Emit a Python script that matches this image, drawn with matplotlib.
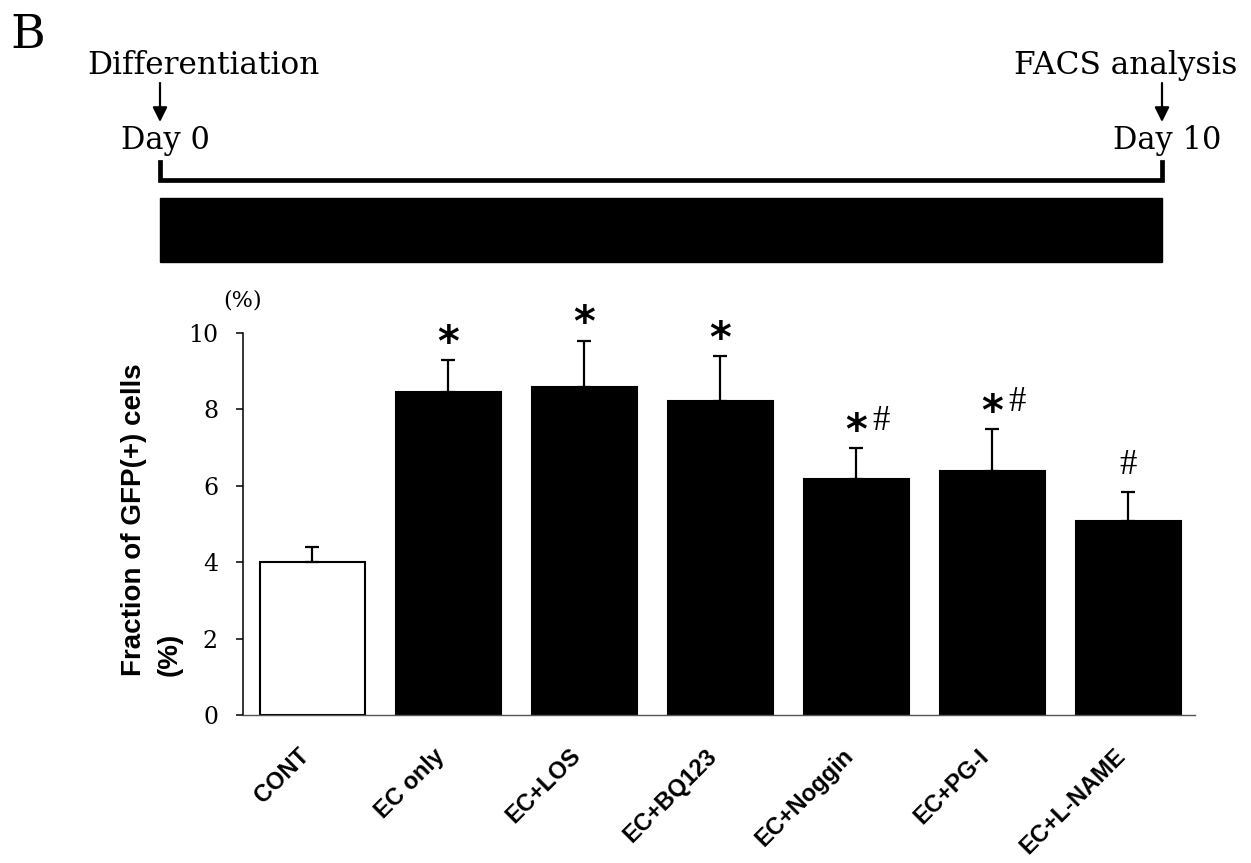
import matplotlib
matplotlib.use('Agg')
import matplotlib.pyplot as plt
from matplotlib.patches import Rectangle
import numpy as np

# bar chart values
groups = ['CONT', 'EC only', 'EC+LOS', 'EC+BQ123', 'EC+Noggin', 'EC+PG-I', 'EC+L-NAME']
gfp_fraction = [4.01, 8.46, 8.58, 8.21, 6.18, 6.40, 5.09]
gfp_sem = [0.39, 0.83, 1.22, 1.19, 0.80, 1.08, 0.75]
marks = ['', '*', '*', '*', '*#', '*#', '#']
bar_colors = ['white'] + ['black'] * 6
y_ticks = [0, 2, 4, 6, 8, 10]

# timeline on top
timeline_days = [0, 10]
timeline_events = ['Differentiation', 'FACS analysis']
timeline_labels = ['Day 0', 'Day 10']

W, H = 1251, 863
fig = plt.figure(figsize=(W / 100, H / 100), dpi=100)
serif = 'DejaVu Serif'
sans = 'Liberation Sans'

# --- timeline panel (x in days, y in pixels from top) ---
ax_t = fig.add_axes([160 / W, 0, 1002 / W, 1])
ax_t.set_xlim(timeline_days[0], timeline_days[-1])
ax_t.set_ylim(H, 0)
ax_t.axis('off')

d0, d1 = timeline_days
ax_t.plot([d0, d0, d1, d1], [162, 180, 180, 162], color='black', lw=3.4,
          solid_joinstyle='miter', clip_on=False)
ax_t.add_patch(Rectangle((d0, 198), d1 - d0, 64, color='black', clip_on=False))

for day, event, lab, ha, dx in zip(timeline_days, timeline_events, timeline_labels,
                                  ['left', 'right'], [-73, 75]):
    ax_t.annotate('', xy=(day, 122), xytext=(day, 83),
                  arrowprops=dict(arrowstyle='-|>', lw=1.6, color='black',
                                  mutation_scale=22, shrinkA=0, shrinkB=0))
    ax_t.annotate(event, xy=(day, 74), xytext=(dx, 0), textcoords='offset pixels',
                  ha=ha, va='baseline', fontsize=22.5, family=serif)
    ax_t.annotate(lab, xy=(day, 149), xytext=(5, 0), textcoords='offset pixels',
                  ha='center', va='baseline', fontsize=22, family=serif)

fig.text(10 / W, 1 - 48 / H, 'B', fontsize=34, family=serif, ha='left', va='baseline')

# --- bar chart ---
ax = fig.add_axes([243 / W, 148 / H, 952 / W, 382 / H])
x = np.arange(len(groups))
ax.bar(x, gfp_fraction, width=0.77, color=bar_colors, edgecolor='black', linewidth=1.5,
       yerr=[np.zeros(len(groups)), gfp_sem],
       error_kw=dict(ecolor='black', elinewidth=1.6, capsize=5, capthick=1.6))

# significance marks
for i, m in enumerate(marks):
    top = gfp_fraction[i] + gfp_sem[i]
    if '*' in m:
        ax.annotate('*', xy=(i, top), xytext=(0, 3), textcoords='offset points',
                    ha='center', va='baseline', fontsize=30, fontweight='bold',
                    family='DejaVu Sans')
    if '#' in m:
        dx = 18 if '*' in m else 0
        ax.annotate('#', xy=(i, top), xytext=(dx, 13), textcoords='offset points',
                    ha='center', va='baseline', fontsize=25, family='Liberation Serif')

ax.set_xlim(-0.51, 6.49)
ax.set_ylim(0, 10)
ax.set_yticks(y_ticks)
ax.set_yticklabels([str(t) for t in y_ticks], family=serif, fontsize=17)
ax.set_xticks(x)
ax.set_xticklabels([])
for i, g in enumerate(groups):
    ax.annotate(g, xy=(i, 0), xycoords=('data', 'axes fraction'), xytext=(-5, -27),
                textcoords='offset points', rotation=45, ha='right', va='center',
                rotation_mode='anchor', fontsize=17, fontweight='bold', family=sans)
ax.tick_params(axis='x', length=0)
ax.tick_params(axis='y', direction='out', length=5, width=1.1, pad=13)

for s in ['top', 'right']:
    ax.spines[s].set_visible(False)
ax.spines['left'].set_linewidth(1.1)
ax.spines['bottom'].set_linewidth(1.0)
ax.spines['bottom'].set_color('#555555')

ax.set_ylabel('Fraction of GFP(+) cells\n(%)', fontsize=20, fontweight='bold', family=sans,
              multialignment='left', linespacing=1.5)
ax.yaxis.set_label_coords(-0.063, 0.51)
ax.text(0, 1.086, '(%)', transform=ax.transAxes, ha='center', va='center',
        fontsize=16, family=serif)

fig.savefig('out.png', dpi=100)
